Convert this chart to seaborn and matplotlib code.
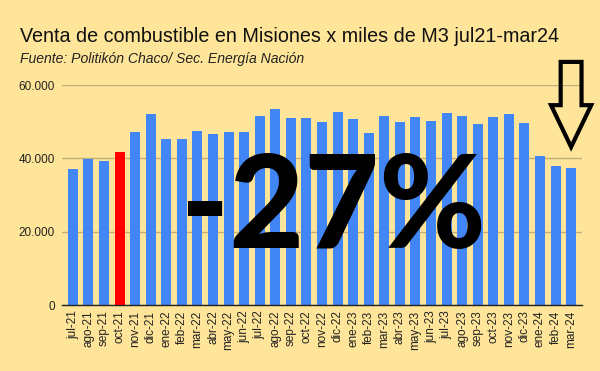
import matplotlib
matplotlib.use("Agg")
import matplotlib.pyplot as plt
import seaborn as sns
import pandas as pd
from matplotlib.patches import Polygon
from matplotlib.ticker import FuncFormatter

meses = ["jul-21", "ago-21", "sep-21", "oct-21", "nov-21", "dic-21",
         "ene-22", "feb-22", "mar-22", "abr-22", "may-22", "jun-22",
         "jul-22", "ago-22", "sep-22", "oct-22", "nov-22", "dic-22",
         "ene-23", "feb-23", "mar-23", "abr-23", "may-23", "jun-23",
         "jul-23", "ago-23", "sep-23", "oct-23", "nov-23", "dic-23",
         "ene-24", "feb-24", "mar-24"]
ventas = [37100, 39700, 39300, 41700, 47200, 52100,
          45200, 45200, 47400, 46600, 47200, 47200,
          51500, 53400, 50900, 50900, 49800, 52500,
          50600, 46800, 51500, 49800, 51200, 50100,
          52300, 51500, 49300, 51200, 52000, 49500,
          40700, 37800, 37500]
destacado = "oct-21"

BG = "#FFE599"
BLUE = "#4285F4"
RED = "#FF0000"
GRID = "#BFAE7E"

sns.set_theme(style="white")
plt.rcParams["font.family"] = ["Liberation Sans", "DejaVu Sans"]

df = pd.DataFrame({"mes": meses, "venta": ventas})
colores = [RED if m == destacado else BLUE for m in meses]

fig = plt.figure(figsize=(6.0, 3.71), dpi=100, facecolor=BG)
ax = fig.add_axes([62/600, 1-305/371, 520/600, 220/371])
ax.set_facecolor(BG)

sns.barplot(data=df, x="mes", y="venta", hue="mes", palette=colores,
            legend=False, width=0.64, ax=ax, saturation=1, zorder=2,
            edgecolor="none", linewidth=0)

ax.set_ylim(0, 60000)
ax.set_xlim(-0.7, len(meses) - 0.3)
ax.set_yticks([0, 20000, 40000, 60000])
ax.yaxis.set_major_formatter(FuncFormatter(lambda v, p: f"{int(v):,}".replace(",", ".")))
ax.grid(axis="y", color=GRID, linewidth=1, zorder=0)
ax.grid(axis="x", visible=False)
for s in ["top", "right", "left"]:
    ax.spines[s].set_visible(False)
ax.spines["bottom"].set_color("#222222")
ax.spines["bottom"].set_linewidth(1)
ax.spines["bottom"].set_zorder(3)
ax.set_xlabel("")
ax.set_ylabel("")
ax.tick_params(axis="y", length=0, pad=5, labelsize=8.5, labelcolor="#222222")
ax.tick_params(axis="x", length=0, pad=4, labelsize=8.5, labelcolor="#222222", rotation=90)

fig.text(20/600, 1-42/371, "Venta de combustible en Misiones x miles de M3 jul21-mar24",
         fontsize=14.2, color="#111111", ha="left", va="baseline")
fig.text(20/600, 1-63/371, "Fuente: Politikón Chaco/ Sec. Energía Nación",
         fontsize=10.1, style="italic", color="#222222", ha="left", va="baseline")

fig.text(334/600, 1-248/371, "-27%", fontsize=93, fontweight="black",
         family=["Lato", "DejaVu Sans"], color="black",
         ha="center", va="baseline", zorder=5)

# hollow down arrow above last bar
xi = len(meses) - 1
sw, hw = 0.67, 1.29
arrow = Polygon([(xi - sw, 66300), (xi + sw, 66300), (xi + sw, 54500),
                 (xi + hw, 54500), (xi, 43100), (xi - hw, 54500),
                 (xi - sw, 54500)], closed=True, fill=False,
                edgecolor="black", linewidth=3, joinstyle="miter",
                clip_on=False, zorder=6)
ax.add_patch(arrow)

fig.savefig("out.png", dpi=100, facecolor=BG)
